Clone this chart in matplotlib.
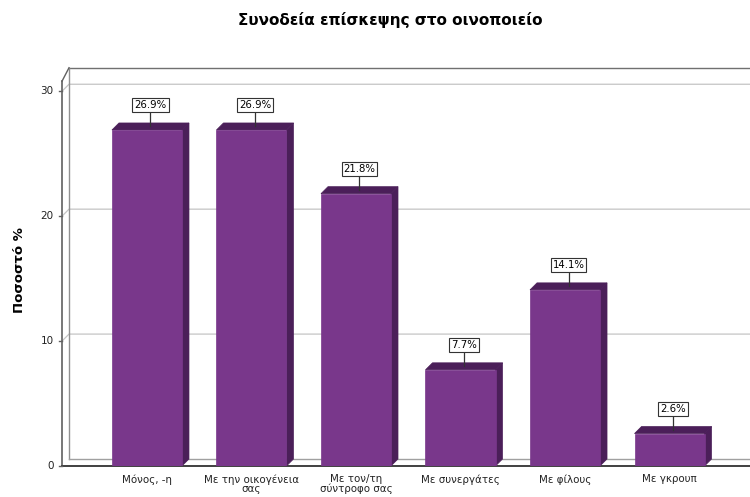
import matplotlib.pyplot as plt
from matplotlib.patches import Polygon, Rectangle
import numpy as np

categories = ['Μόνος, -η', 'Με την οικογένεια\nσας', 'Με τον/τη\nσύντροφο σας',
              'Με συνεργάτες', 'Με φίλους', 'Με γκρουπ']
percent = [26.9, 26.9, 21.8, 7.7, 14.1, 2.6]
yticks = [0, 10, 20, 30]

front = '#79378b'
shade = '#4b1f59'

W, H = 750, 497
fig = plt.figure(figsize=(W / 100, H / 100), dpi=100)
# axes: left edge at the front y axis, bottom at the zero line
ax = fig.add_axes([62 / W, 31 / H, (W - 62) / W, 391 / H])
xlo, xhi = -0.813, 5.77
ylo, yhi = 0, 31.3
ax.set_xlim(xlo, xhi)
ax.set_ylim(ylo, yhi)
ax.set_axis_off()

# depth of the 3d effect in data units
dx = 7 / 104.5
dy = 7 / 12.5
bw = 0.67

# back wall gridlines and frame
for t in yticks[1:]:
    ax.plot([xlo, xlo + dx, xhi + 1], [t, t + dy, t + dy], color='#c4c4c4', lw=0.9, clip_on=False)
top = yhi + 0.3 + dy * 0.5
ax.plot([xlo + dx, xhi + 1], [top, top], color='#707070', lw=1, clip_on=False)
ax.plot([xlo + dx, xlo + dx], [dy, top], color='#909090', lw=1, clip_on=False)
ax.plot([xlo, xlo + dx], [yhi - 0.5, top], color='#606060', lw=1, clip_on=False)
# left (front) axis
ax.plot([xlo, xlo], [0, yhi - 0.5], color='#606060', lw=1.2, clip_on=False)
# floor
ax.plot([xlo + dx, xhi + 1], [dy, dy], color='#a0a0a0', lw=1, clip_on=False)
ax.plot([xlo, xhi + 1], [0, 0], color='#404040', lw=1.4, clip_on=False)

for t in yticks:
    ax.plot([xlo - 0.03, xlo], [t, t], color='#606060', lw=1, clip_on=False)
    ax.text(xlo - 0.08, t, str(t), ha='right', va='center', fontsize=7.5, color='#222222')

x = np.arange(len(categories))
for xi, v, lab in zip(x, percent, categories):
    l, r = xi - bw / 2, xi + bw / 2
    ax.add_patch(Polygon([[r, 0], [r + dx, dy], [r + dx, v + dy], [r, v]], closed=True,
                         facecolor=shade, edgecolor=shade, lw=0.5, zorder=3))
    ax.add_patch(Polygon([[l, v], [l + dx, v + dy], [r + dx, v + dy], [r, v]], closed=True,
                         facecolor=shade, edgecolor=shade, lw=0.5, zorder=3))
    ax.add_patch(Rectangle((l, 0), bw, v, facecolor=front, edgecolor=front, lw=0.5, zorder=4))
    # value label with leader line
    cx = xi + dx / 2
    ax.plot([cx, cx], [v + dy / 2, v + 1.45], color='#333333', lw=0.9, zorder=5)
    ax.text(cx, v + 2.0, '%.1f%%' % v, ha='center', va='center', fontsize=7.3, zorder=6,
            bbox=dict(boxstyle='square,pad=0.2', facecolor='white', edgecolor='#333333', lw=0.8))
    ax.text(xi, -0.65, lab, ha='center', va='top', fontsize=7.4, linespacing=0.95, color='#222222')

fig.text(20 / W, 1 - 270 / H, 'Ποσοστό %', rotation=90, ha='center', va='center',
         fontsize=9.5, fontweight='bold')
fig.text(390 / W, 1 - 20 / H, 'Συνοδεία επίσκεψης στο οινοποιείο', ha='center', va='center',
         fontsize=11, fontweight='bold')

fig.savefig('out.png', dpi=100)
